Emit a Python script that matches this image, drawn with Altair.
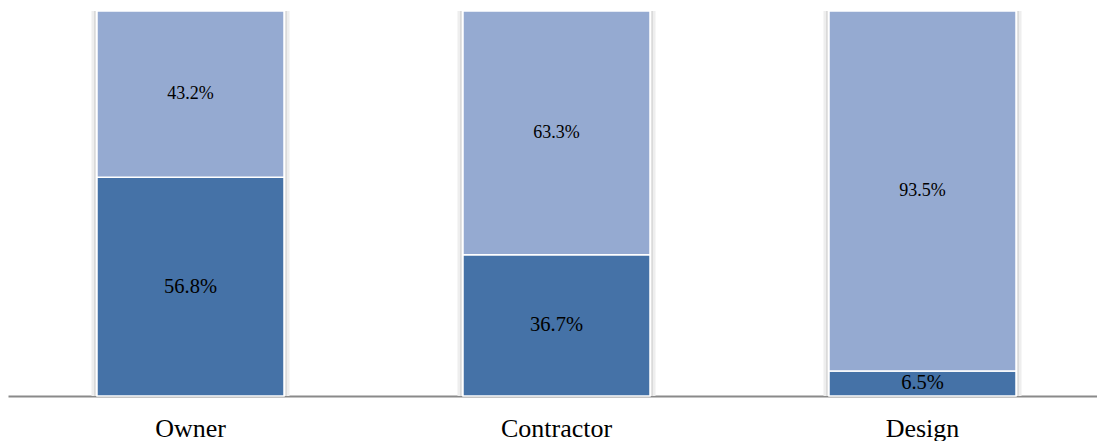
import altair as alt
import pandas as pd

categories = ["Owner", "Contractor", "Design"]
series = ["dark", "light"]
dark_values = [56.8, 36.7, 6.5]
light_values = [43.2, 63.3, 93.5]

rows = []
for c, d, l in zip(categories, dark_values, light_values):
    rows.append({"category": c, "series": "dark", "order": 0, "value": d, "label": f"{d:.1f}%"})
    rows.append({"category": c, "series": "light", "order": 1, "value": l, "label": f"{l:.1f}%"})
df = pd.DataFrame(rows)

FONT = "Liberation Serif"

x_enc = alt.X(
    "category:N",
    sort=categories,
    title=None,
    scale=alt.Scale(paddingInner=0.5, paddingOuter=0.2377, align=0.523),
    axis=alt.Axis(
        labelAngle=0,
        labelFont=FONT,
        labelFontSize=26,
        labelColor="black",
        labelPadding=19,
        ticks=False,
        domainColor="#8a8a8a",
        domainWidth=2,
        grid=False,
    ),
)
y_scale = alt.Scale(domain=[0, 100], nice=False, zero=True)

base = alt.Chart(df)

shadow_outer = base.mark_bar(width=198, color="#eeeeee").encode(
    x=x_enc, y=alt.Y("sum(value):Q", scale=y_scale, axis=None, stack=None)
)
shadow_line = base.mark_bar(width=192, color="#c6c6c6").encode(
    x=x_enc, y=alt.Y("sum(value):Q", scale=y_scale, axis=None, stack=None)
)
shadow_gap = base.mark_bar(width=190, color="white").encode(
    x=x_enc, y=alt.Y("sum(value):Q", scale=y_scale, axis=None, stack=None)
)

bars = base.mark_bar(width=187, stroke="white", strokeWidth=1.5).encode(
    x=x_enc,
    y=alt.Y("value:Q", stack="zero", scale=y_scale, axis=None),
    color=alt.Color(
        "series:N",
        scale=alt.Scale(domain=series, range=["#4572a7", "#95aad1"]),
        legend=None,
    ),
    order=alt.Order("order:Q"),
)

labels = (
    base.transform_stack(
        stack="value", groupby=["category"], as_=["y0", "y1"], sort=[alt.SortField("order")]
    )
    .transform_calculate(mid="(datum.y0 + datum.y1) / 2")
    .mark_text(font=FONT, color="black", baseline="middle", align="center")
    .encode(
        x=x_enc,
        y=alt.Y("mid:Q", scale=y_scale, axis=None),
        text="label:N",
        size=alt.Size(
            "series:N",
            scale=alt.Scale(domain=series, range=[20.5, 18]),
            legend=None,
        ),
    )
)

chart = (
    alt.layer(shadow_outer, shadow_line, shadow_gap, bars, labels)
    .properties(
        width=1089,
        height=385,
        background="white",
        autosize=alt.AutoSizeParams(type="none"),
        padding={"left": 0, "top": 3, "right": 0, "bottom": 45},
    )
    .configure_view(stroke="transparent", strokeWidth=0)
)

chart.save("out.html", embed_options={"renderer": "svg", "actions": False})
